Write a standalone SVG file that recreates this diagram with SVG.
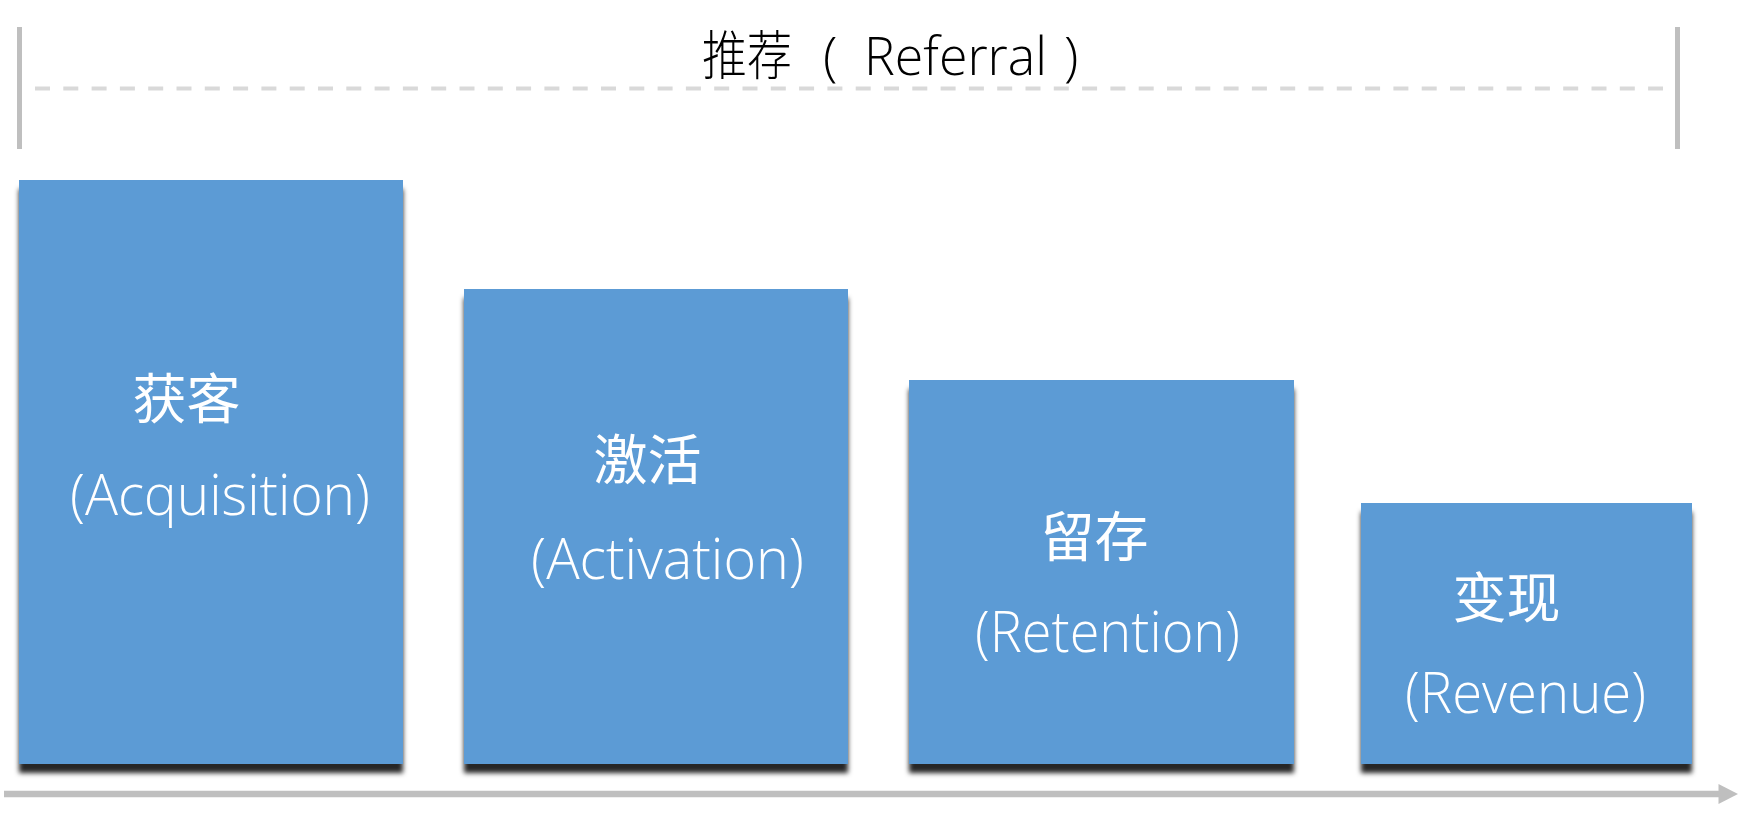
<svg xmlns="http://www.w3.org/2000/svg" width="1754" height="824" viewBox="0 0 1754 824">
<style>
.box{fill:#5b9bd5;filter:url(#sh)}
.cn{font-family:"Noto Sans CJK SC","Noto Sans",sans-serif;font-size:54px;fill:#ffffff;text-anchor:middle}
.en{font-family:"Open Sans","Noto Sans",sans-serif;font-weight:300;font-size:57px;fill:#ffffff;text-anchor:middle}
.title{font-family:"Noto Sans CJK SC","Noto Sans",sans-serif;font-weight:300;font-size:53px;fill:#000000}
.titleEn{font-family:"Open Sans","Noto Sans",sans-serif;font-weight:300;font-size:53px;fill:#000000}
.grey{stroke:#bfbfbf;fill:none}
</style>
<defs>
<filter id="sh" x="-5%" y="-5%" width="110%" height="115%">
<feDropShadow dx="0" dy="9" stdDeviation="2.5" flood-color="#000000" flood-opacity="0.85"/>
</filter>
</defs>
<rect width="1754" height="824" fill="#ffffff"/>
<g id="referral">
<line class="grey" x1="19.5" y1="27" x2="19.5" y2="149" stroke-width="5"/>
<line class="grey" x1="1677.5" y1="27" x2="1677.5" y2="149" stroke-width="5"/>
<line x1="35" y1="88.5" x2="1663" y2="88.5" stroke="#d9d9d9" stroke-width="4" stroke-dasharray="15 13.3"/>
<text class="title" y="75"><tspan x="702" textLength="90" lengthAdjust="spacingAndGlyphs">推荐</tspan><tspan class="titleEn" x="823">(</tspan><tspan class="titleEn" x="864" textLength="183" lengthAdjust="spacingAndGlyphs">Referral</tspan><tspan class="titleEn" x="1064">)</tspan></text>
</g>
<g id="connectors">
<line class="grey" x1="4" y1="794" x2="1722" y2="794" stroke-width="6.7"/>
<polygon points="1718.5,784 1738,794 1718.5,804" fill="#bfbfbf"/>
</g>
<g id="acquisition">
<rect class="box" x="19" y="180" width="384" height="584"/>
<text class="cn" x="186.5" y="419">获客</text>
<text class="en" x="220" y="515" textLength="300" lengthAdjust="spacingAndGlyphs">(Acquisition)</text>
</g>
<g id="activation">
<rect class="box" x="464" y="289" width="384" height="475"/>
<text class="cn" x="647.5" y="480">激活</text>
<text class="en" x="667.5" y="579" textLength="273" lengthAdjust="spacingAndGlyphs">(Activation)</text>
</g>
<g id="retention">
<rect class="box" x="909" y="380" width="385" height="384"/>
<text class="cn" x="1094.5" y="557">留存</text>
<text class="en" x="1107.5" y="652" textLength="265" lengthAdjust="spacingAndGlyphs">(Retention)</text>
</g>
<g id="revenue">
<rect class="box" x="1361" y="503" width="331" height="261"/>
<text class="cn" x="1506.5" y="618">变现</text>
<text class="en" x="1525.5" y="713" textLength="241" lengthAdjust="spacingAndGlyphs">(Revenue)</text>
</g>
</svg>
